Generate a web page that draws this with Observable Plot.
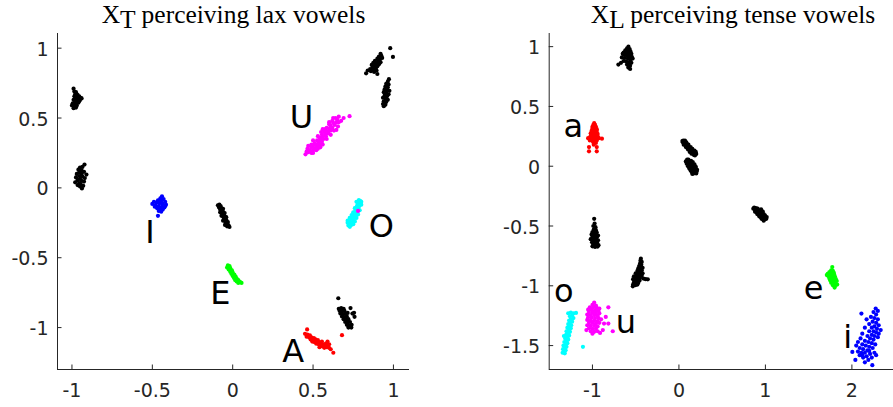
<!DOCTYPE html>
<html><head><meta charset="utf-8">
<script src="https://cdn.jsdelivr.net/npm/d3@7"></script>
<script src="https://cdn.jsdelivr.net/npm/@observablehq/plot@0.6"></script>
<style>
html,body{margin:0;padding:0;background:#fff;}
#wrap{position:relative;width:893px;height:407px;overflow:hidden;}
.ttl{position:absolute;top:2.3px;font-family:"Liberation Serif","Times New Roman",serif;font-size:25.5px;line-height:25.5px;text-align:center;color:#000;white-space:nowrap;}
.ttl span{position:relative;top:5px;}
#left,#right{position:absolute;top:0;}
#left{left:0;width:450px;} #right{left:450px;width:468px;}
#wrap svg{max-width:none !important;display:block;}
</style></head><body>
<div id="wrap">
  <div id="left"></div>
  <div id="right"></div>
  <div class="ttl" style="left:0;width:467px;">X<span>T</span> perceiving lax vowels</div>
  <div class="ttl" style="left:433px;width:600px;">X<span>L</span> perceiving tense vowels</div>
</div>
<script>
// ---------- Left panel: X_T perceiving lax vowels ----------
const xtBlack1 = [[-0.99,0.71],[-0.985,0.69],[-0.975,0.685],[-0.98,0.67],[-0.965,0.665],[-0.985,0.655],[-0.97,0.65],[-0.955,0.655],[-0.945,0.645],[-0.96,0.64],[-0.975,0.635],[-0.99,0.63],[-0.95,0.63],[-0.965,0.625],[-0.98,0.615],[-0.96,0.61],[-0.995,0.605],[-0.975,0.6],[-1.0,0.59],[-0.985,0.585],[-0.97,0.59],[-0.99,0.57],[-0.975,0.575],[-0.94,0.64],[-0.955,0.62]];
const xtBlack2 = [[-0.922,0.167],[-0.935,0.15],[-0.95,0.145],[-0.96,0.13],[-0.94,0.125],[-0.925,0.115],[-0.955,0.11],[-0.97,0.1],[-0.94,0.1],[-0.91,0.095],[-0.955,0.085],[-0.935,0.08],[-0.975,0.075],[-0.92,0.07],[-0.95,0.065],[-0.965,0.055],[-0.94,0.05],[-0.925,0.045],[-0.955,0.035],[-0.98,0.04],[-0.945,0.025],[-0.93,0.015],[-0.95,0.01],[-0.938,-0.004],[-0.965,0.02]];
const xtBlack3 = [[-0.083,-0.12],[-0.075,-0.13],[-0.085,-0.14],[-0.07,-0.145],[-0.078,-0.155],[-0.065,-0.16],[-0.072,-0.17],[-0.058,-0.175],[-0.066,-0.185],[-0.055,-0.19],[-0.06,-0.2],[-0.048,-0.205],[-0.055,-0.215],[-0.045,-0.22],[-0.05,-0.23],[-0.038,-0.235],[-0.045,-0.245],[-0.035,-0.25],[-0.04,-0.26],[-0.03,-0.265],[-0.035,-0.275],[-0.025,-0.27],[-0.092,-0.125],[-0.06,-0.15],[-0.05,-0.18],[-0.07,-0.2],[-0.04,-0.21],[-0.06,-0.235],[-0.03,-0.245],[-0.048,-0.265],[-0.02,-0.28],[-0.078,-0.175]];
const xtBlack4 = [[0.92,0.96],[0.925,0.945],[0.91,0.94],[0.93,0.93],[0.9,0.925],[0.915,0.92],[0.885,0.91],[0.905,0.905],[0.92,0.9],[0.875,0.895],[0.895,0.89],[0.91,0.885],[0.865,0.88],[0.885,0.875],[0.9,0.87],[0.87,0.86],[0.89,0.855],[0.855,0.85],[0.875,0.845],[0.895,0.84],[0.86,0.835],[0.88,0.83],[0.84,0.84],[0.83,0.82],[0.9,0.815],[0.98,1.0],[0.997,0.937]];
const xtBlack5 = [[0.972,0.778],[0.965,0.76],[0.955,0.745],[0.97,0.74],[0.95,0.725],[0.965,0.72],[0.945,0.705],[0.96,0.7],[0.975,0.695],[0.94,0.685],[0.955,0.68],[0.97,0.67],[0.945,0.66],[0.96,0.655],[0.935,0.645],[0.95,0.64],[0.965,0.63],[0.94,0.62],[0.955,0.615],[0.935,0.6],[0.95,0.595],[0.94,0.585]];
const xtBlack6 = [[0.657,-0.79],[0.66,-0.865],[0.675,-0.86],[0.69,-0.865],[0.665,-0.88],[0.68,-0.885],[0.695,-0.88],[0.67,-0.9],[0.685,-0.905],[0.7,-0.9],[0.715,-0.895],[0.68,-0.92],[0.695,-0.925],[0.71,-0.92],[0.69,-0.94],[0.705,-0.945],[0.72,-0.94],[0.7,-0.96],[0.715,-0.965],[0.73,-0.96],[0.71,-0.98],[0.725,-0.985],[0.74,-0.98],[0.72,-1.0],[0.738,-1.0],[0.733,-0.86],[0.755,-0.894],[0.758,-0.923],[0.745,-0.9]];
const xtI = [[-0.44,-0.06],[-0.45,-0.075],[-0.43,-0.08],[-0.465,-0.09],[-0.445,-0.095],[-0.42,-0.1],[-0.49,-0.1],[-0.475,-0.105],[-0.455,-0.11],[-0.435,-0.115],[-0.415,-0.12],[-0.5,-0.115],[-0.48,-0.125],[-0.46,-0.13],[-0.44,-0.135],[-0.425,-0.14],[-0.47,-0.145],[-0.45,-0.15],[-0.435,-0.155],[-0.46,-0.165],[-0.445,-0.17],[-0.465,-0.2],[-0.485,-0.135],[-0.42,-0.13]];
const xtE = [[-0.03,-0.555],[-0.02,-0.56],[-0.035,-0.57],[-0.015,-0.575],[-0.025,-0.585],[-0.005,-0.59],[-0.015,-0.6],[0.0,-0.605],[-0.008,-0.615],[0.01,-0.62],[0.0,-0.63],[0.018,-0.635],[0.008,-0.645],[0.025,-0.65],[0.015,-0.66],[0.035,-0.66],[0.025,-0.67],[0.045,-0.672],[0.055,-0.68],[0.035,-0.68]];
const xtU = [[0.453,0.24],[0.47,0.255],[0.49,0.25],[0.48,0.27],[0.5,0.27],[0.465,0.28],[0.51,0.285],[0.49,0.29],[0.525,0.295],[0.5,0.305],[0.52,0.31],[0.54,0.31],[0.51,0.32],[0.535,0.325],[0.555,0.33],[0.525,0.34],[0.545,0.345],[0.565,0.35],[0.54,0.36],[0.56,0.365],[0.58,0.37],[0.555,0.38],[0.575,0.385],[0.595,0.39],[0.57,0.4],[0.59,0.405],[0.61,0.41],[0.6,0.425],[0.62,0.43],[0.585,0.43],[0.61,0.445],[0.635,0.45],[0.625,0.465],[0.645,0.47],[0.62,0.48],[0.65,0.49],[0.66,0.51],[0.64,0.5],[0.727,0.513],[0.6,0.455],[0.53,0.28],[0.49,0.31],[0.66,0.47],[0.47,0.3],[0.5,0.25],[0.52,0.27],[0.545,0.29],[0.5,0.34],[0.56,0.31],[0.53,0.37],[0.585,0.35],[0.55,0.4],[0.61,0.38],[0.575,0.42],[0.63,0.41],[0.6,0.47],[0.655,0.44],[0.625,0.5],[0.675,0.48],[0.69,0.5],[0.46,0.26],[0.56,0.42],[0.645,0.415]];
const xtO = [[0.785,-0.088],[0.795,-0.095],[0.78,-0.105],[0.79,-0.115],[0.775,-0.125],[0.788,-0.13],[0.77,-0.14],[0.782,-0.15],[0.765,-0.16],[0.778,-0.165],[0.76,-0.175],[0.772,-0.185],[0.752,-0.19],[0.765,-0.2],[0.745,-0.205],[0.758,-0.215],[0.738,-0.22],[0.75,-0.23],[0.715,-0.235],[0.73,-0.24],[0.745,-0.25],[0.725,-0.255],[0.738,-0.265],[0.729,-0.279],[0.72,-0.27],[0.8,-0.1],[0.77,-0.1],[0.8,-0.12],[0.76,-0.145],[0.79,-0.16],[0.75,-0.175],[0.78,-0.19],[0.74,-0.195],[0.77,-0.215],[0.728,-0.215],[0.76,-0.24],[0.715,-0.25],[0.75,-0.26]];
const xtOStray = [[0.78,-0.165]];
const xtA = [[0.463,-1.013],[0.45,-1.045],[0.465,-1.05],[0.48,-1.055],[0.46,-1.065],[0.475,-1.07],[0.49,-1.07],[0.505,-1.075],[0.485,-1.085],[0.5,-1.09],[0.515,-1.085],[0.53,-1.09],[0.495,-1.1],[0.51,-1.105],[0.525,-1.1],[0.54,-1.105],[0.555,-1.1],[0.52,-1.115],[0.535,-1.12],[0.55,-1.115],[0.565,-1.12],[0.58,-1.115],[0.545,-1.13],[0.56,-1.135],[0.575,-1.13],[0.59,-1.13],[0.6,-1.12],[0.57,-1.145],[0.585,-1.14],[0.6,-1.145],[0.61,-1.155],[0.54,-1.14],[0.626,-1.18],[0.68,-1.054],[0.59,-1.1]];
const xtLabels = [["U",0.428,0.432],["I",-0.514,-0.398],["E",-0.077,-0.832],["O",0.925,-0.352],["A",0.376,-1.245]];
const xtXTicks = [-1,-0.5,0,0.5,1];
const xtYTicks = [-1,-0.5,0,0.5,1];

// ---------- Right panel: X_L perceiving tense vowels ----------
const xlBlack1 = [[-0.584,1.0],[-0.6,0.985],[-0.57,0.98],[-0.62,0.97],[-0.59,0.965],[-0.56,0.96],[-0.64,0.95],[-0.61,0.95],[-0.58,0.945],[-0.55,0.94],[-0.63,0.93],[-0.6,0.925],[-0.57,0.92],[-0.545,0.915],[-0.66,0.91],[-0.625,0.905],[-0.59,0.9],[-0.56,0.89],[-0.64,0.88],[-0.61,0.875],[-0.575,0.87],[-0.55,0.865],[-0.67,0.865],[-0.7,0.85],[-0.6,0.85],[-0.565,0.84],[-0.585,0.825],[-0.564,0.813],[-0.535,0.9],[-0.65,0.94]];
const xlBlack2 = [[0.05,0.215],[0.065,0.205],[0.045,0.2],[0.075,0.195],[0.06,0.19],[0.09,0.185],[0.075,0.178],[0.1,0.175],[0.085,0.165],[0.115,0.16],[0.1,0.152],[0.13,0.148],[0.115,0.14],[0.145,0.138],[0.13,0.13],[0.16,0.128],[0.15,0.12],[0.175,0.118],[0.165,0.11],[0.19,0.11],[0.2,0.103],[0.04,0.21],[0.07,0.215],[0.055,0.18],[0.085,0.2],[0.08,0.16],[0.11,0.18],[0.105,0.14],[0.135,0.16],[0.125,0.12],[0.155,0.145],[0.145,0.105],[0.18,0.13],[0.17,0.095],[0.195,0.12],[0.185,0.09]];
const xlBlack3 = [[0.095,0.055],[0.115,0.045],[0.1,0.035],[0.13,0.035],[0.115,0.025],[0.145,0.025],[0.125,0.012],[0.155,0.01],[0.14,0.0],[0.17,0.0],[0.135,-0.012],[0.16,-0.015],[0.185,-0.012],[0.15,-0.028],[0.175,-0.03],[0.2,-0.025],[0.165,-0.042],[0.19,-0.045],[0.18,-0.058],[0.205,-0.045],[0.08,0.04],[0.09,0.02],[0.105,0.0],[0.12,-0.02],[0.135,-0.035],[0.15,-0.05],[0.165,-0.06],[0.2,-0.06],[0.21,-0.03],[0.195,-0.005],[0.18,0.015],[0.16,0.035],[0.14,0.045],[0.11,0.055],[0.155,-0.065]];
const xlBlack4 = [[0.87,-0.345],[0.89,-0.35],[0.91,-0.355],[0.88,-0.365],[0.9,-0.37],[0.92,-0.375],[0.94,-0.37],[0.895,-0.385],[0.915,-0.39],[0.935,-0.39],[0.955,-0.385],[0.92,-0.405],[0.94,-0.41],[0.96,-0.405],[0.98,-0.4],[0.945,-0.425],[0.965,-0.425],[0.985,-0.42],[1.0,-0.43],[0.97,-0.44],[0.99,-0.445],[1.01,-0.44],[0.86,-0.355],[0.88,-0.38],[0.905,-0.4],[0.93,-0.42],[0.955,-0.44],[0.98,-0.455],[0.95,-0.36],[0.97,-0.38],[0.995,-0.41],[1.015,-0.425]];
const xlBlack5 = [[-0.98,-0.44],[-0.975,-0.48],[-0.99,-0.5],[-0.965,-0.51],[-0.985,-0.53],[-0.96,-0.535],[-1.0,-0.55],[-0.975,-0.55],[-0.95,-0.555],[-1.01,-0.57],[-0.985,-0.57],[-0.96,-0.575],[-0.935,-0.58],[-1.0,-0.59],[-0.975,-0.595],[-0.95,-0.595],[-1.02,-0.61],[-0.99,-0.615],[-0.96,-0.615],[-0.935,-0.62],[-1.005,-0.635],[-0.975,-0.635],[-0.945,-0.64],[-0.99,-0.655],[-0.96,-0.655],[-0.93,-0.66],[-1.0,-0.67],[-0.97,-0.675],[-0.94,-0.672]];
const xlBlack6 = [[-0.44,-0.773],[-0.445,-0.79],[-0.43,-0.8],[-0.45,-0.815],[-0.435,-0.825],[-0.46,-0.835],[-0.44,-0.845],[-0.42,-0.85],[-0.47,-0.855],[-0.45,-0.865],[-0.43,-0.87],[-0.48,-0.875],[-0.46,-0.885],[-0.44,-0.89],[-0.42,-0.895],[-0.5,-0.895],[-0.48,-0.905],[-0.46,-0.91],[-0.43,-0.915],[-0.52,-0.92],[-0.5,-0.925],[-0.475,-0.93],[-0.45,-0.935],[-0.41,-0.94],[-0.385,-0.945],[-0.36,-0.946],[-0.53,-0.945],[-0.505,-0.95],[-0.48,-0.955],[-0.455,-0.955],[-0.52,-0.97],[-0.495,-0.975],[-0.47,-0.975],[-0.53,-0.99],[-0.505,-0.995],[-0.533,-1.004],[-0.48,-0.99]];
const xlA = [[-0.98,0.36],[-0.99,0.345],[-0.97,0.345],[-1.0,0.33],[-0.98,0.33],[-0.96,0.33],[-1.0,0.315],[-0.985,0.31],[-0.965,0.315],[-0.95,0.31],[-1.01,0.295],[-0.99,0.295],[-0.97,0.29],[-0.95,0.295],[-1.02,0.275],[-1.0,0.275],[-0.98,0.275],[-0.96,0.275],[-0.94,0.27],[-1.02,0.255],[-1.0,0.255],[-0.98,0.255],[-0.96,0.255],[-0.94,0.25],[-1.05,0.235],[-1.03,0.24],[-1.01,0.235],[-0.99,0.235],[-0.97,0.235],[-0.95,0.235],[-0.925,0.235],[-0.89,0.23],[-1.03,0.215],[-1.0,0.215],[-0.975,0.215],[-0.95,0.215],[-0.99,0.2],[-0.96,0.195],[-1.04,0.16],[-1.04,0.125],[-0.95,0.16],[-0.95,0.125],[-0.985,0.18]];
const xlO = [[-1.19,-1.227],[-1.22,-1.23],[-1.25,-1.225],[-1.28,-1.23],[-1.235,-1.25],[-1.26,-1.255],[-1.22,-1.27],[-1.25,-1.28],[-1.27,-1.29],[-1.235,-1.3],[-1.26,-1.31],[-1.28,-1.32],[-1.245,-1.33],[-1.27,-1.34],[-1.29,-1.35],[-1.25,-1.355],[-1.275,-1.37],[-1.3,-1.38],[-1.26,-1.385],[-1.285,-1.4],[-1.305,-1.41],[-1.27,-1.415],[-1.29,-1.43],[-1.315,-1.44],[-1.28,-1.45],[-1.3,-1.46],[-1.325,-1.47],[-1.29,-1.48],[-1.31,-1.495],[-1.335,-1.5],[-1.3,-1.51],[-1.32,-1.525],[-1.34,-1.53],[-1.31,-1.54],[-1.33,-1.555],[-1.345,-1.56],[-1.32,-1.565],[-1.11,-1.51],[-1.33,-1.42]];
const xlU = [[-0.98,-1.14],[-1.0,-1.16],[-0.96,-1.165],[-1.03,-1.18],[-0.99,-1.18],[-0.95,-1.185],[-0.92,-1.19],[-1.05,-1.2],[-1.01,-1.2],[-0.97,-1.205],[-0.93,-1.21],[-1.04,-1.22],[-1.0,-1.225],[-0.96,-1.225],[-0.92,-1.23],[-1.06,-1.24],[-1.02,-1.245],[-0.98,-1.245],[-0.94,-1.25],[-1.05,-1.265],[-1.01,-1.265],[-0.97,-1.27],[-0.93,-1.27],[-0.9,-1.28],[-1.06,-1.285],[-1.02,-1.29],[-0.98,-1.29],[-0.94,-1.295],[-1.04,-1.31],[-1.0,-1.31],[-0.96,-1.315],[-0.92,-1.31],[-1.06,-1.33],[-1.02,-1.335],[-0.98,-1.335],[-0.94,-1.34],[-1.04,-1.355],[-1.0,-1.36],[-0.96,-1.36],[-1.02,-1.38],[-0.98,-1.385],[-0.94,-1.38],[-1.0,-1.4],[-0.816,-1.18],[-0.846,-1.26],[-0.765,-1.38],[-0.866,-1.316],[-0.912,-1.394],[-0.816,-1.316],[-0.88,-1.37],[-1.07,-1.37]];
const xlE = [[1.773,-0.843],[1.76,-0.87],[1.78,-0.875],[1.74,-0.885],[1.765,-0.89],[1.79,-0.89],[1.72,-0.9],[1.745,-0.905],[1.77,-0.905],[1.795,-0.905],[1.73,-0.92],[1.755,-0.92],[1.78,-0.92],[1.805,-0.925],[1.74,-0.94],[1.765,-0.94],[1.79,-0.94],[1.815,-0.945],[1.75,-0.955],[1.775,-0.96],[1.8,-0.96],[1.825,-0.96],[1.76,-0.975],[1.785,-0.98],[1.81,-0.98],[1.78,-0.995],[1.805,-1.0],[1.83,-0.99],[1.8,-1.015],[1.71,-0.91]];
const xlI = [[2.275,-1.19],[2.3,-1.21],[2.25,-1.22],[2.11,-1.232],[2.28,-1.24],[2.22,-1.26],[2.26,-1.27],[2.3,-1.28],[2.17,-1.28],[2.24,-1.3],[2.28,-1.31],[2.2,-1.32],[2.31,-1.33],[2.26,-1.34],[2.23,-1.35],[2.15,-1.35],[2.29,-1.36],[2.333,-1.37],[2.25,-1.38],[2.2,-1.38],[2.28,-1.39],[2.31,-1.4],[2.12,-1.4],[2.23,-1.41],[2.26,-1.42],[2.18,-1.42],[2.3,-1.43],[2.1,-1.44],[2.21,-1.44],[2.25,-1.45],[2.15,-1.46],[2.07,-1.47],[2.19,-1.47],[2.23,-1.48],[2.12,-1.49],[2.27,-1.49],[2.05,-1.5],[2.16,-1.5],[2.2,-1.51],[2.09,-1.52],[2.13,-1.53],[2.24,-1.52],[2.18,-1.54],[2.005,-1.553],[2.07,-1.55],[2.11,-1.56],[2.15,-1.56],[2.21,-1.57],[2.26,-1.56],[2.09,-1.58],[2.17,-1.59],[2.13,-1.6],[2.23,-1.6],[2.04,-1.62],[2.19,-1.62],[2.15,-1.64],[2.236,-1.664],[2.28,-1.58],[2.12,-1.58],[2.2,-1.545]];
const xlLabels = [["a",-1.221,0.242],["o",-1.331,-1.135],["u",-0.613,-1.394],["e",1.556,-1.107],["i",1.952,-1.524]];
const xlXTicks = [-1,0,1,2];
const xlYTicks = [-1.5,-1,-0.5,0,0.5,1];

const BLACK = "#000000", RED = "#ff0000", GREEN = "#00ff00", BLUE = "#0000ff", CYAN = "#00ffff", MAGENTA = "#ff00ff";

const toRows = groups => groups.flatMap(([c, pts]) => pts.map(([x, y]) => ({x, y, c})));
const axisColor = "#262626";

function panel({width, marginLeft, marginRight, xDomain, yDomain, xTicks, yTicks, rows, labels}) {
  return Plot.plot({
    width, height: 407, marginLeft, marginRight, marginTop: 33, marginBottom: 38,
    x: {domain: xDomain},
    y: {domain: yDomain},
    style: {fontFamily: "DejaVu Sans", fontSize: "19px", color: axisColor, background: "transparent", maxWidth: "none"},
    marks: [
      Plot.ruleX([xDomain[0]], {stroke: axisColor, strokeWidth: 1}),
      Plot.ruleY([yDomain[0]], {stroke: axisColor, strokeWidth: 1}),
      Plot.axisX({ticks: xTicks, anchor: "bottom", tickSize: 0, tickPadding: 14, label: null, tickFormat: d => String(d), fill: axisColor, fontSize: 19}),
      Plot.axisX({ticks: xTicks, anchor: "bottom", tickSize: 4.5, dy: -4.5, fill: "none", label: null, stroke: axisColor}),
      Plot.axisY({ticks: yTicks, anchor: "left", tickSize: 0, tickPadding: 9, dy: 1.5, label: null, tickFormat: d => String(d), fill: axisColor, fontSize: 19}),
      Plot.axisY({ticks: yTicks, anchor: "left", tickSize: 4.5, dx: 4.5, fill: "none", label: null, stroke: axisColor}),
      Plot.dot(rows, {x: "x", y: "y", fill: "c", r: 2.1, stroke: null}),
      Plot.text(labels, {x: d => d[1], y: d => d[2], text: d => d[0], fontSize: 32, fontFamily: "DejaVu Sans", fill: "#000", textAnchor: "middle", lineAnchor: "bottom"})
    ],
    color: {type: "identity"}
  });
}

const leftRows = toRows([
  [BLACK, xtBlack1], [BLACK, xtBlack2], [BLACK, xtBlack3], [BLACK, xtBlack4], [BLACK, xtBlack5], [BLACK, xtBlack6],
  [BLUE, xtI], [GREEN, xtE], [MAGENTA, xtU], [CYAN, xtO], [MAGENTA, xtOStray], [RED, xtA]
]);
const rightRows = toRows([
  [BLACK, xlBlack1], [BLACK, xlBlack2], [BLACK, xlBlack3], [BLACK, xlBlack4], [BLACK, xlBlack5], [BLACK, xlBlack6],
  [RED, xlA], [CYAN, xlO], [MAGENTA, xlU], [GREEN, xlE], [BLUE, xlI]
]);

document.getElementById("left").appendChild(panel({
  width: 450, marginLeft: 57, marginRight: 41, xDomain: [-1.09, 1.10], yDomain: [-1.3, 1.105],
  xTicks: xtXTicks, yTicks: xtYTicks, rows: leftRows, labels: xtLabels
}));
document.getElementById("right").appendChild(panel({
  width: 468, marginLeft: 98.7, marginRight: 0, xDomain: [-1.5, 2.77], yDomain: [-1.7, 1.11],
  xTicks: xlXTicks, yTicks: xlYTicks, rows: rightRows, labels: xlLabels
}));
</script>
</body></html>
